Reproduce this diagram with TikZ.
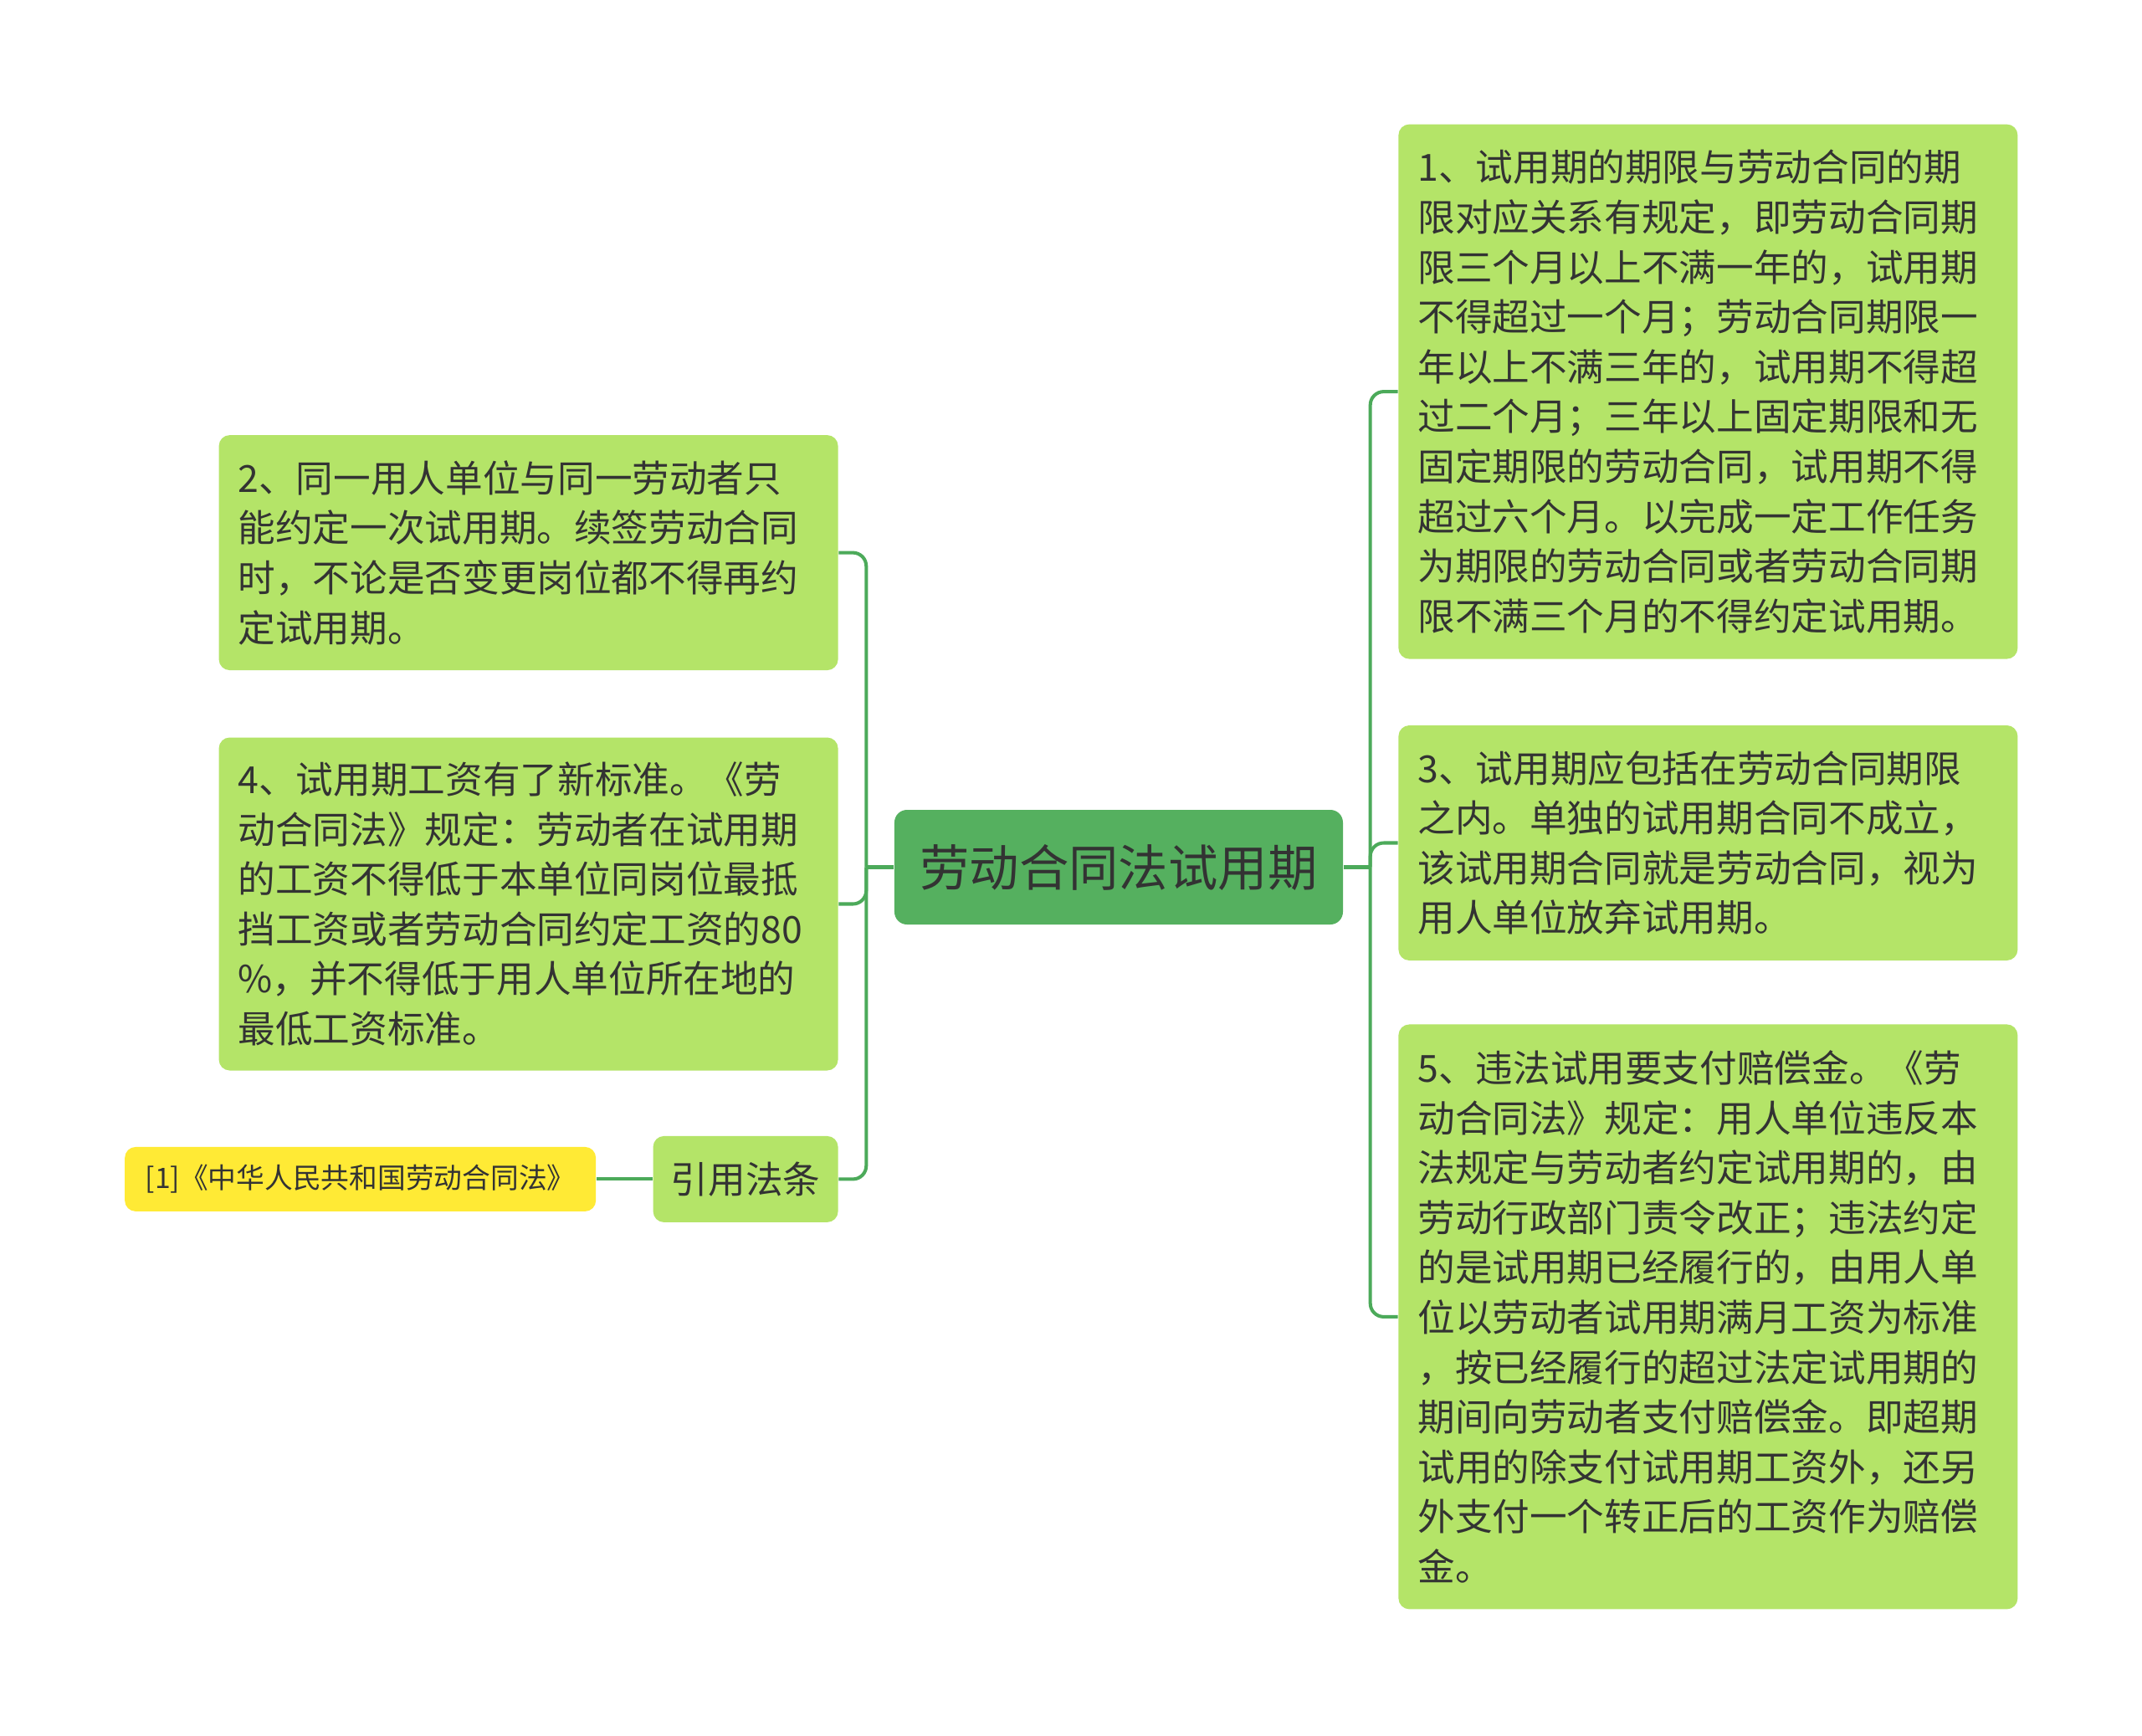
\documentclass[tikz,border=0pt]{standalone}
\usepackage{fontspec}
\newfontfamily\cjk{Noto Sans CJK SC}
\usepackage{xcolor}
\usepackage{tikz}
\usetikzlibrary{positioning}
\definecolor{rootgreen}{HTML}{55B05F}
\definecolor{leafgreen}{HTML}{B4E468}
\definecolor{linegreen}{HTML}{4CAA5A}
\definecolor{citeyellow}{HTML}{FFEA35}
\definecolor{ink}{HTML}{333333}
\tikzstyle{topic} = [rectangle, rounded corners=0.15cm, fill=rootgreen, text=ink, minimum width=5.36cm, minimum height=1.37cm, font=\cjk\fontsize{16.9}{20}\selectfont]
\tikzstyle{point} = [rectangle, rounded corners=0.13cm, fill=leafgreen, text=ink, text width=6.94cm, align=left, inner xsep=0.23cm, inner ysep=0pt, font=\cjk\fontsize{12.7}{16.96}\selectfont]
\tikzstyle{lawtag} = [rectangle, rounded corners=0.13cm, fill=leafgreen, text=ink, minimum width=2.21cm, minimum height=1.03cm, font=\cjk\fontsize{12.7}{16.96}\selectfont]
\tikzstyle{cite} = [rectangle, rounded corners=0.13cm, fill=citeyellow, text=ink, minimum width=5.63cm, minimum height=0.77cm, font=\cjk\fontsize{9.6}{12}\selectfont]
\tikzstyle{link} = [draw=linegreen, line width=1.15pt]

\begin{document}
\begin{tikzpicture}

  \useasboundingbox[fill=white] (-13.37,-10.375) rectangle (12.23,10.365);

  % Nodes
  \node (root) [topic] at (0,0) {劳动合同法试用期};

  \node (n3) [point, minimum height=2.81cm, right=0.65cm of root, yshift=0.29cm] {3、试用期应包括在劳动合同期限\\之内。单独的试用期合同不成立，\\该试用期合同就是劳动合同，视为\\用人单位放弃试用期。};
  \node (n1) [point, minimum height=6.39cm, above=0.78cm of n3] {1、试用期的期限与劳动合同的期\\限对应关系有规定，即劳动合同期\\限三个月以上不满一年的，试用期\\不得超过一个月；劳动合同期限一\\年以上不满三年的，试用期不得超\\过二个月；三年以上固定期限和无\\固定期限的劳动合同，试用期不得\\超过六个月。以完成一定工作任务\\为期限的劳动合同或者劳动合同期\\限不满三个月的不得约定试用期。};
  \node (n5) [point, minimum height=6.99cm, below=0.75cm of n3] {5、违法试用要支付赔偿金。《劳\\动合同法》规定：用人单位违反本\\法规定与劳动者约定试用期的，由\\劳动行政部门责令改正；违法约定\\的是试用期已经履行的，由用人单\\位以劳动者试用期满月工资为标准\\，按已经履行的超过法定试用期的\\期间向劳动者支付赔偿金。即超期\\试用的除支付试用期工资外，还另\\外支付一个转正后的工资作为赔偿\\金。};

  \node (n4) [point, minimum height=3.98cm, left=0.66cm of root, yshift=-0.44cm] {4、试用期工资有了新标准。《劳\\动合同法》规定：劳动者在试用期\\的工资不得低于本单位同岗位最抵\\挡工资或者劳动合同约定工资的80\\\%，并不得低于用人单位所在地的\\最低工资标准。};
  \node (n2) [point, minimum height=2.81cm, above=0.79cm of n4] {2、同一用人单位与同一劳动者只\\能约定一次试用期。续签劳动合同\\时，不论是否变更岗位都不得再约\\定试用期。};
  \node (law) [lawtag, below=0.77cm of n4.south east, anchor=north east] {引用法条};
  \node (ref) [cite, left=0.67cm of law] {[1]《中华人民共和国劳动合同法》};

  % Connectors
  \coordinate (rj) at ([xshift=0.32cm]root.east);
  \coordinate (lj) at ([xshift=-0.33cm]root.west);
  \draw[link] (root.east) -- (rj);
  \draw[link] (root.west) -- (lj);
  \draw[link, rounded corners=0.16cm] (rj) |- (n1.west);
  \draw[link, rounded corners=0.16cm] (rj) |- (n3.west);
  \draw[link, rounded corners=0.16cm] (rj) |- (n5.west);
  \draw[link, rounded corners=0.16cm] (lj) |- (n2.east);
  \draw[link, rounded corners=0.16cm] (lj) |- (n4.east);
  \draw[link, rounded corners=0.16cm] (lj) |- (law.east);
  \draw[link] (law) -- (ref);

\end{tikzpicture}
\end{document}
